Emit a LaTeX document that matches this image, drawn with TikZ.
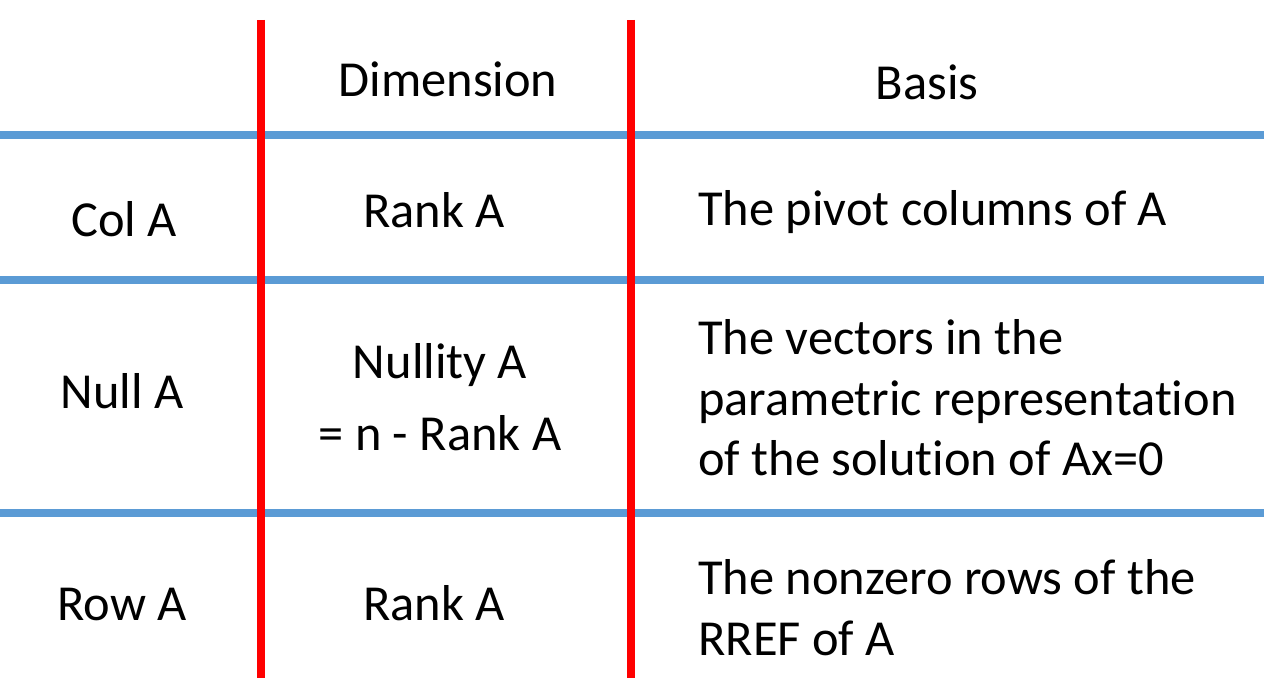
\documentclass[tikz,border=0pt]{standalone}
\usepackage{fontspec}
\setmainfont{Carlito}[Ligatures=NoCommon]
\usetikzlibrary{positioning}
\definecolor{rowblue}{HTML}{5B9BD5}

\begin{document}
\begin{tikzpicture}[x=0.02cm,y=-0.02cm]
    \tikzstyle{cell}=[inner sep=0pt, font=\fontsize{28.7}{34.6}\selectfont]
    \tikzstyle{hline}=[rowblue, line width=4.55pt]
    \tikzstyle{vline}=[red, line width=4.55pt]

    \useasboundingbox (0,0) rectangle (1264,678);

    \coordinate (h1w) at (0,135);   \coordinate (h1e) at (1264,135);
    \coordinate (h2w) at (0,280);   \coordinate (h2e) at (1264,280);
    \coordinate (h3w) at (0,513);   \coordinate (h3e) at (1264,513);
    \coordinate (v1n) at (261,20);  \coordinate (v1s) at (261,678);
    \coordinate (v2n) at (631,20);  \coordinate (v2s) at (631,678);

    \draw[hline] (h1w) -- (h1e);
    \draw[hline] (h2w) -- (h2e);
    \draw[hline] (h3w) -- (h3e);
    \draw[vline] (v1n) -- (v1s);
    \draw[vline] (v2n) -- (v2s);

    \node[cell, anchor=base] (dim)   at (448,97)  {Dimension};
    \node[cell, anchor=base] (basis) at (927,100) {Basis};

    \node[cell, anchor=base] (colA)  at (124,237) {Col A};
    \node[cell, anchor=base] (rank1) at (434,228) {Rank A};
    \node[cell, anchor=base west] (pivot) at (698,226) {The pivot columns of A};

    \node[cell, anchor=base] (nullA) at (122,409) {Null A};
    \node[cell, anchor=base, align=center] (nullity) at (440,451) {Nullity A\\[6.8pt]= n - Rank A};
    \node[cell, anchor=base west, align=left] (vectors) at (698,476)
        {The vectors in the\\parametric representation\\of the solution of Ax=0};

    \node[cell, anchor=base] (rowA)  at (122,620) {Row A};
    \node[cell, anchor=base] (rank3) at (434,620) {Rank A};
    \node[cell, anchor=base west, align=left] (nonzero) at (698,655)
        {The nonzero rows of the\\RREF of A};
\end{tikzpicture}
\end{document}
